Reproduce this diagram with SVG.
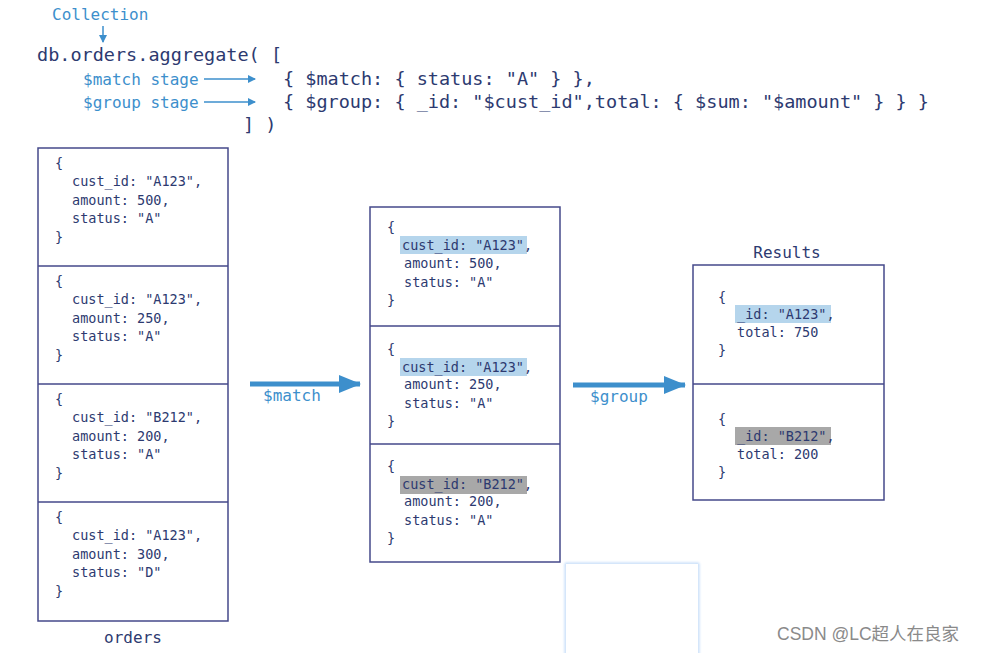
<svg xmlns="http://www.w3.org/2000/svg" width="984" height="653" viewBox="0 0 984 653">
<defs>
<style>
.m{font-family:"DejaVu Sans Mono","Liberation Mono",monospace;fill:#2d3a70}
.c{font-size:18.5px}
.b{font-size:13.5px}
.lbl{font-family:"DejaVu Sans Mono","Liberation Mono",monospace;fill:#3d8fcc;font-size:16px}
.box{fill:none;stroke:#45498a;stroke-width:1.5}
.hb{fill:#b5d5ec}
.hg{fill:#a8a8a8}
.thin{stroke:#3d8fcc;stroke-width:1.5;fill:none}
.thick{stroke:#3d8fcc;stroke-width:5;fill:none}
</style>
<marker id="ah" markerWidth="8" markerHeight="8" refX="7" refY="4" orient="auto" markerUnits="userSpaceOnUse"><path d="M0,0 L8,4 L0,8 Z" fill="#3d8fcc"/></marker>
<marker id="ab" markerWidth="22" markerHeight="18" refX="21" refY="9" orient="auto" markerUnits="userSpaceOnUse"><path d="M0,0 L22,9 L0,18 Z" fill="#3d8fcc"/></marker>
<filter id="glow" x="-10%" y="-10%" width="120%" height="120%"><feGaussianBlur stdDeviation="1.5"/></filter>
</defs>
<rect width="984" height="653" fill="#fff"/>
<g id="code">
<text class="lbl" x="52" y="20">Collection</text>
<text class="m c" x="37" y="61">db.orders.aggregate( [</text>
<text class="lbl" x="83" y="85">$match stage</text>
<text class="lbl" x="83" y="108">$group stage</text>
<text class="m c" x="283" y="85">{ $match: { status: "A" } },</text>
<text class="m c" x="283" y="108">{ $group: { _id: "$cust_id",total: { $sum: "$amount" } } }</text>
<text class="m c" x="243" y="131">] )</text>
</g>
<g id="orders">
<rect class="box" x="38" y="148" width="190" height="473"/>
<line class="box" x1="38" y1="266" x2="228" y2="266"/>
<line class="box" x1="38" y1="384" x2="228" y2="384"/>
<line class="box" x1="38" y1="502" x2="228" y2="502"/>
<text class="m b" x="55" y="168">{</text><text class="m b" x="72" y="186">cust_id: "A123",</text><text class="m b" x="72" y="205">amount: 500,</text><text class="m b" x="72" y="223">status: "A"</text><text class="m b" x="55" y="242">}</text>
<text class="m b" x="55" y="286">{</text><text class="m b" x="72" y="304">cust_id: "A123",</text><text class="m b" x="72" y="323">amount: 250,</text><text class="m b" x="72" y="341">status: "A"</text><text class="m b" x="55" y="360">}</text>
<text class="m b" x="55" y="404">{</text><text class="m b" x="72" y="422">cust_id: "B212",</text><text class="m b" x="72" y="441">amount: 200,</text><text class="m b" x="72" y="459">status: "A"</text><text class="m b" x="55" y="478">}</text>
<text class="m b" x="55" y="522">{</text><text class="m b" x="72" y="540">cust_id: "A123",</text><text class="m b" x="72" y="559">amount: 300,</text><text class="m b" x="72" y="577">status: "D"</text><text class="m b" x="55" y="596">}</text>
<text class="m" x="133" y="643" font-size="16" text-anchor="middle">orders</text>
</g>
<g id="matched">
<rect class="box" x="370" y="207" width="190" height="355"/>
<line class="box" x1="370" y1="326" x2="560" y2="326"/>
<line class="box" x1="370" y1="444" x2="560" y2="444"/>
<rect class="hb" x="400" y="236" width="127" height="18"/>
<rect class="hb" x="400" y="358" width="127" height="18"/>
<rect class="hg" x="400" y="476" width="127" height="18"/>
<text class="m b" x="387" y="232">{</text><text class="m b" x="402" y="250">cust_id: "A123",</text><text class="m b" x="404" y="268">amount: 500,</text><text class="m b" x="404" y="287">status: "A"</text><text class="m b" x="387" y="305">}</text>
<text class="m b" x="387" y="354">{</text><text class="m b" x="402" y="372">cust_id: "A123",</text><text class="m b" x="404" y="389">amount: 250,</text><text class="m b" x="404" y="408">status: "A"</text><text class="m b" x="387" y="426">}</text>
<text class="m b" x="387" y="471">{</text><text class="m b" x="402" y="489">cust_id: "B212",</text><text class="m b" x="404" y="506">amount: 200,</text><text class="m b" x="404" y="525">status: "A"</text><text class="m b" x="387" y="543">}</text>
</g>
<g id="results">
<text class="m" x="787" y="258" font-size="16" text-anchor="middle">Results</text>
<rect class="box" x="693" y="265" width="191" height="235"/>
<line class="box" x1="693" y1="384" x2="884" y2="384"/>
<rect class="hb" x="735" y="305" width="96" height="18"/>
<rect class="hg" x="735" y="427" width="96" height="18"/>
<text class="m b" x="718" y="302">{</text><text class="m b" x="737" y="319">_id: "A123",</text><text class="m b" x="737" y="337">total: 750</text><text class="m b" x="718" y="355">}</text>
<text class="m b" x="718" y="424">{</text><text class="m b" x="737" y="441">_id: "B212",</text><text class="m b" x="737" y="459">total: 200</text><text class="m b" x="718" y="477">}</text>
</g>
<g id="connectors">
<line class="thin" x1="103" y1="26" x2="103" y2="42" marker-end="url(#ah)"/>
<line class="thin" x1="204" y1="79" x2="255" y2="79" marker-end="url(#ah)"/>
<line class="thin" x1="204" y1="102" x2="255" y2="102" marker-end="url(#ah)"/>
<line class="thick" x1="250" y1="384" x2="360" y2="384" marker-end="url(#ab)"/>
<line class="thick" x1="573" y1="385" x2="685" y2="385" marker-end="url(#ab)"/>
<text class="lbl" x="263" y="401">$match</text>
<text class="lbl" x="590" y="402">$group</text>
</g>
<rect x="566" y="564" width="132" height="95" fill="none" stroke="#a8ccf5" stroke-width="2" filter="url(#glow)"/>
<rect x="566" y="564" width="132" height="95" fill="#fff"/>
<text x="777" y="640" font-family="Liberation Sans,'Noto Sans CJK SC',sans-serif" font-size="17.5" fill="#8a8a8a">CSDN @LC超人在良家</text>
</svg>
